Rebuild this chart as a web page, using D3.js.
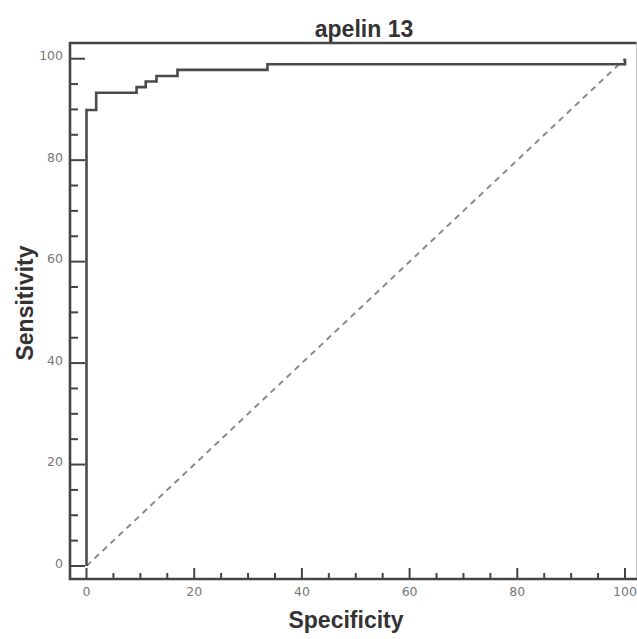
<!DOCTYPE html>
<html>
<head>
<meta charset="utf-8">
<script src="https://cdn.jsdelivr.net/npm/d3@7"></script>
<style>
  body { margin: 0; background: #fff; }
  svg { display: block; }
  .tick-label { font-family: "DejaVu Sans", sans-serif; font-size: 12.5px; fill: #777; }
  .title { font-family: "Liberation Sans", Arial, sans-serif; font-weight: bold; font-size: 23px; fill: #333; }
</style>
</head>
<body>
<svg id="chart" width="637" height="639"></svg>
<script>
// ROC points (specificity axis, sensitivity)
var specificity = [0, 0, 1.8, 9.3, 11.0, 13.0, 16.9, 33.6, 100];
var sensitivity = [0, 89.9, 93.3, 94.4, 95.5, 96.6, 97.8, 98.9, 100];
var majorTicks = [0, 20, 40, 60, 80, 100];
var minorTicks = d3.range(0, 101, 5).filter(function (v) { return v % 20 !== 0; });

var frame = { left: 70, right: 636.5, top: 43, bottom: 579 };
var axisColor = '#444';

var svg = d3.select('#chart');
var x = d3.scaleLinear().domain([0, 100]).range([86.5, 625]);
var y = d3.scaleLinear().domain([0, 100]).range([566, 58.7]);

// diagonal reference line
svg.append('line')
  .attr('x1', x(0)).attr('y1', y(0))
  .attr('x2', x(100)).attr('y2', y(100))
  .attr('stroke', '#8a8a8a')
  .attr('stroke-width', 2)
  .attr('stroke-dasharray', '6,5');

// ROC curve
var rocLine = d3.line()
  .x(function (d) { return x(d[0]); })
  .y(function (d) { return y(d[1]); })
  .curve(d3.curveStepAfter);

svg.append('path')
  .datum(d3.zip(specificity, sensitivity))
  .attr('d', rocLine)
  .attr('fill', 'none')
  .attr('stroke', '#4a4a4a')
  .attr('stroke-width', 2.6);

// frame
svg.append('line')
  .attr('x1', frame.right).attr('x2', frame.right)
  .attr('y1', frame.top).attr('y2', frame.bottom)
  .attr('stroke', '#c8c8c8').attr('stroke-width', 1);
svg.append('path')
  .attr('d', 'M' + frame.right + ',' + frame.top + 'H' + frame.left + 'V' + frame.bottom + 'H' + 637)
  .attr('fill', 'none')
  .attr('stroke', axisColor)
  .attr('stroke-width', 2.6);

// y ticks (pointing inward)
svg.append('g').selectAll('line')
  .data(majorTicks.concat(minorTicks))
  .enter().append('line')
  .attr('x1', frame.left)
  .attr('x2', function (d) { return d % 20 === 0 ? frame.left + 15 : frame.left + 8; })
  .attr('y1', y).attr('y2', y)
  .attr('stroke', axisColor).attr('stroke-width', 2);

svg.append('g').selectAll('text')
  .data(majorTicks)
  .enter().append('text')
  .attr('class', 'tick-label')
  .attr('x', 63)
  .attr('y', function (d) { return y(d) + 1.5; })
  .attr('text-anchor', 'end')
  .text(function (d) { return d; });

// x ticks (pointing upward)
svg.append('g').selectAll('line')
  .data(majorTicks.concat(minorTicks))
  .enter().append('line')
  .attr('x1', x).attr('x2', x)
  .attr('y1', frame.bottom)
  .attr('y2', function (d) { return d % 20 === 0 ? frame.bottom - 11 : frame.bottom - 6; })
  .attr('stroke', axisColor).attr('stroke-width', 2);

svg.append('g').selectAll('text')
  .data(majorTicks)
  .enter().append('text')
  .attr('class', 'tick-label')
  .attr('x', x)
  .attr('y', 596)
  .attr('text-anchor', 'middle')
  .text(function (d) { return d; });

// titles
svg.append('text')
  .attr('class', 'title')
  .attr('x', 364).attr('y', 36.5)
  .attr('text-anchor', 'middle')
  .text('apelin 13');

svg.append('text')
  .attr('class', 'title')
  .attr('x', 346).attr('y', 628)
  .attr('text-anchor', 'middle')
  .text('Specificity');

svg.append('text')
  .attr('class', 'title')
  .attr('transform', 'translate(33,303) rotate(-90)')
  .attr('text-anchor', 'middle')
  .text('Sensitivity');
</script>
</body>
</html>
